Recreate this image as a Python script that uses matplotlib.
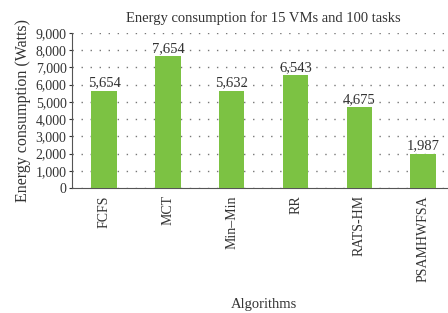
import numpy as np
import matplotlib.pyplot as plt
from matplotlib.ticker import FuncFormatter

algorithms = ['FCFS', 'MCT', 'Min\u2013Min', 'RR', 'RATS-HM', 'PSAMHWFSA']
energy = [5654, 7654, 5632, 6543, 4675, 1987]

plt.rcParams['font.family'] = ['Liberation Serif', 'DejaVu Serif']

fig = plt.figure(figsize=(4.48, 3.13), dpi=100)
ax = fig.add_axes([0.161, 0.399, 0.855, 0.496])

x = np.arange(len(algorithms))
bars = ax.bar(x, energy, width=0.4, color='#7cc243', zorder=3)

# etiquetas encima de cada barra
for xi, v in zip(x, energy):
    ax.text(xi, v + 80, f'{v:,}', ha='center', va='bottom', fontsize=10.5, color='#333333')

ax.set_xlim(-0.5, 5.5)
ax.set_ylim(0, 9000)
ax.set_yticks(np.arange(0, 9001, 1000))
ax.yaxis.set_major_formatter(FuncFormatter(lambda v, p: f'{int(v):,}'))
ax.set_xticks(x)
ax.set_xticklabels(algorithms, rotation=90)
ax.grid(axis='y', linestyle=(0, (1, 5.5)), color='#777777', linewidth=1.0, zorder=0)

for s in ['top', 'right']:
    ax.spines[s].set_visible(False)
ax.spines['left'].set_color('#555555')
ax.spines['bottom'].set_color('#555555')
ax.tick_params(axis='y', length=2, labelsize=10, colors='#333333', pad=2)
ax.tick_params(axis='x', length=0, labelsize=10, colors='#333333', pad=5)

ax.set_title('Energy consumption for 15 VMs and 100 tasks', fontsize=10.5, color='#333333', pad=8)
ax.set_ylabel('Energy consumption (Watts)', fontsize=11.5, color='#333333', labelpad=3)
ax.set_xlabel('Algorithms', fontsize=10.5, color='#333333', labelpad=12)

fig.savefig('out.png', dpi=100)
